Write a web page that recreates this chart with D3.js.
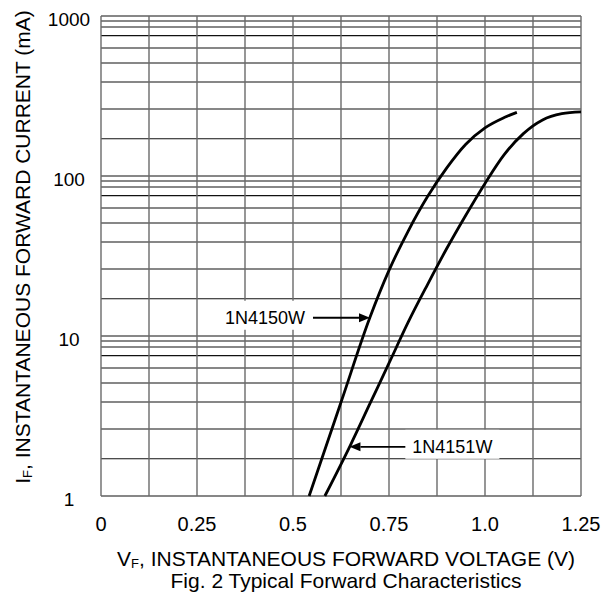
<!DOCTYPE html>
<html>
<head>
<meta charset="utf-8">
<script src="https://cdn.jsdelivr.net/npm/d3@7"></script>
<style>
  html, body { margin: 0; padding: 0; background: #fff; }
  svg { display: block; font-family: "Liberation Sans", Arial, sans-serif; }
</style>
</head>
<body>
<svg id="chart" width="611" height="598"></svg>
<script>
// ---- data ----
const vf4150 = [0.542, 0.627, 0.700, 0.750, 0.800, 0.850, 0.900, 0.950, 1.000, 1.050, 1.083];
const if4150 = [1, 3.98, 13.0, 25.7, 45.3, 74.1, 112, 158, 200, 232, 250];
const vf4151 = [0.583, 0.650, 0.700, 0.750, 0.800, 0.850, 0.900, 0.950, 1.000, 1.050, 1.100, 1.150, 1.200, 1.250];
const if4151 = [1, 2.09, 3.76, 6.76, 12.2, 20.9, 35.1, 56.9, 89.9, 136, 184, 224, 245, 252];

const xTickValues = [0, 0.25, 0.5, 0.75, 1.0, 1.25];
const xTickLabels = ["0", "0.25", "0.5", "0.75", "1.0", "1.25"];
const xGridValues = [0, 0.125, 0.25, 0.375, 0.5, 0.625, 0.75, 0.875, 1.0, 1.125, 1.25];
const yTickValues = [1, 10, 100, 1000];
const yTickLabels = ["1", "10", "100", "1000"];
const decades = [1, 10, 100];
const minorMultipliers = [1.71, 2.62, 3.87, 5.08, 6.31, 7.54, 8.53, 9.31]; // grid lines as drawn in the figure

const seriesNames = ["1N4150W", "1N4151W"];
// annotation: arrow tip on curve (V, mA) and label anchor (V, mA)
const annTipV = [0.7005, 0.647];
const annTipI = [13.0, 2.03];
const annLabelV = [0.427, 0.915];
const annLabelI = [13.0, 2.03];
const annSide = ["left", "right"];

// ---- layout ----
const svg = d3.select("#chart");
const x = d3.scaleLinear().domain([0, 1.25]).range([101, 581]);
const y = d3.scaleLog().domain([1, 1000]).range([496, 16]);

// horizontal grid (black)
const hVals = [];
decades.forEach(d => { hVals.push(d); minorMultipliers.forEach(m => hVals.push(d * m)); });
hVals.push(1000);
svg.append("g").selectAll("line").data(hVals).join("line")
  .attr("x1", x(0)).attr("x2", x(1.25))
  .attr("y1", d => y(d)).attr("y2", d => y(d))
  .attr("stroke", "#111").attr("stroke-width", 1.1);

// vertical grid (gray)
svg.append("g").selectAll("line").data(xGridValues).join("line")
  .attr("x1", d => x(d)).attr("x2", d => x(d))
  .attr("y1", y(1000)).attr("y2", y(1))
  .attr("stroke", "#6a6a6a").attr("stroke-width", 1.4);

// x tick labels
svg.append("g").selectAll("text").data(xTickValues).join("text")
  .attr("x", d => x(d)).attr("y", 530.5)
  .attr("text-anchor", "middle").attr("font-size", 20).attr("fill", "#000")
  .text((d, i) => xTickLabels[i]);

// y tick labels
svg.append("g").selectAll("text").data(yTickValues).join("text")
  .attr("x", 69).attr("y", d => y(d) + 9.7)
  .attr("text-anchor", "middle").attr("font-size", 19).attr("fill", "#000")
  .text((d, i) => yTickLabels[i]);

// curves
const line = d3.line().x(d => x(d[0])).y(d => y(d[1])).curve(d3.curveMonotoneX);
const series = [d3.zip(vf4150, if4150), d3.zip(vf4151, if4151)];
svg.append("g").selectAll("path").data(series).join("path")
  .attr("d", line).attr("fill", "none")
  .attr("stroke", "#000").attr("stroke-width", 2.8)
  .attr("stroke-linecap", "butt");

// annotations
const ann = svg.append("g");
seriesNames.forEach((name, i) => {
  const lx = x(annLabelV[i]), ly = y(annLabelI[i]);
  const tx = x(annTipV[i]), ty = y(annTipI[i]);
  const t = ann.append("text").attr("x", lx).attr("y", ly + 6)
    .attr("text-anchor", "middle").attr("font-size", 18).attr("fill", "#000").text(name);
  const w = t.node().getComputedTextLength();
  ann.insert("rect", "text")
    .attr("x", lx - w / 2 - 7).attr("y", ly - 17)
    .attr("width", w + 14).attr("height", 29).attr("fill", "#fff");
  const startX = annSide[i] === "left" ? lx + w / 2 + 8 : lx - w / 2 - 7;
  const dir = tx > startX ? 1 : -1;
  const head = 11;
  ann.append("line")
    .attr("x1", startX).attr("x2", tx - dir * head)
    .attr("y1", ty).attr("y2", ty)
    .attr("stroke", "#000").attr("stroke-width", 1.8);
  ann.append("path")
    .attr("d", `M${tx},${ty} L${tx - dir * head},${ty - 4.5} L${tx - dir * head},${ty + 4.5} Z`)
    .attr("fill", "#000");
});

// axis titles
const xt = svg.append("text").attr("x", 346).attr("y", 566)
  .attr("text-anchor", "middle").attr("font-size", 21).attr("fill", "#000");
xt.append("tspan").text("V");
xt.append("tspan").attr("font-size", 13).attr("dy", 2).text("F");
xt.append("tspan").attr("dy", -2).text(", INSTANTANEOUS FORWARD VOLTAGE (V)");

svg.append("text").attr("x", 346).attr("y", 588)
  .attr("text-anchor", "middle").attr("font-size", 21).attr("fill", "#000")
  .text("Fig. 2 Typical Forward Characteristics");

const yt = svg.append("text")
  .attr("transform", "translate(29.5,247) rotate(-90)")
  .attr("text-anchor", "middle").attr("font-size", 21).attr("fill", "#000");
yt.append("tspan").text("I");
yt.append("tspan").attr("font-size", 13).attr("dy", 2).text("F");
yt.append("tspan").attr("dy", -2).text(", INSTANTANEOUS FORWARD CURRENT (mA)");
</script>
</body>
</html>
